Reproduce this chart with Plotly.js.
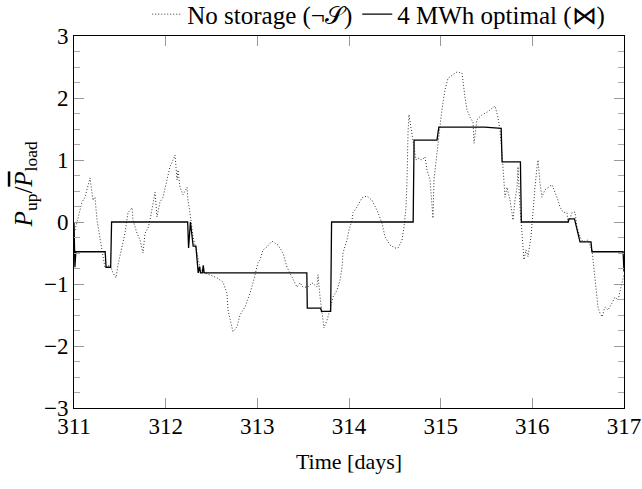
<!DOCTYPE html>
<html>
<head>
<meta charset="utf-8">
<script src="https://cdn.plot.ly/plotly-3.0.1.min.js"></script>
<style>html,body{margin:0;padding:0;background:#fff;}#chart{width:642px;height:489px;}</style>
</head>
<body>
<div id="chart"></div>
<script>
// No storage (dotted) series
const tNoStorage = [311.011,311.087,311.120,311.175,311.207,311.229,311.251,311.284,311.316,311.338,311.393,311.425,311.458,311.480,311.524,311.556,311.589,311.633,311.644,311.687,311.720,311.753,311.775,311.807,311.829,311.862,311.884,311.905,311.938,311.971,312.015,312.047,312.080,312.102,312.124,312.135,312.156,312.189,312.233,312.244,312.265,312.287,312.298,312.342,312.375,312.407,312.484,312.560,312.625,312.669,312.680,312.702,312.734,312.778,312.811,312.865,312.920,312.953,313.007,313.029,313.062,313.105,313.160,313.225,313.280,313.324,313.378,313.433,313.465,313.498,313.553,313.596,313.651,313.662,313.684,313.705,313.727,313.760,313.793,313.825,313.869,313.902,313.924,313.934,313.978,314.000,314.033,314.044,314.087,314.142,314.196,314.251,314.305,314.360,314.393,314.447,314.502,314.534,314.578,314.600,314.622,314.633,314.638,314.644,314.654,314.676,314.698,314.731,314.753,314.796,314.829,314.851,314.884,314.905,314.916,314.927,314.949,314.971,315.004,315.025,315.047,315.080,315.124,315.178,315.233,315.244,315.265,315.287,315.320,315.353,315.364,315.396,315.451,315.505,315.560,315.593,315.625,315.647,315.669,315.680,315.691,315.702,315.724,315.756,315.778,315.789,315.811,315.833,315.844,315.865,315.887,315.898,315.909,315.931,315.953,315.985,316.007,316.029,316.051,316.062,316.083,316.105,316.138,316.171,316.214,316.247,316.269,316.302,316.334,316.378,316.389,316.433,316.465,316.487,316.520,316.553,316.607,316.651,316.662,316.684,316.705,316.716,316.738,316.760,316.793,316.825,316.869,316.902,316.934,316.978,317.000];
const yNoStorage = [-0.13,0.32,0.40,0.71,0.35,0.40,0.03,-0.24,-0.50,-0.74,-0.69,-0.82,-0.90,-0.69,-0.40,-0.18,0.15,0.23,0.03,-0.18,-0.29,-0.50,-0.18,-0.10,0.03,0.31,0.48,0.08,0.32,0.40,0.68,0.89,1.00,1.08,0.68,0.84,0.56,0.44,0.56,0.35,0.15,-0.08,-0.24,-0.50,-0.74,-0.81,-0.86,-0.90,-0.97,-1.15,-1.42,-1.58,-1.77,-1.69,-1.50,-1.37,-1.15,-0.98,-0.66,-0.61,-0.45,-0.40,-0.31,-0.37,-0.50,-0.73,-0.90,-1.05,-0.98,-1.05,-1.05,-0.98,-1.05,-0.85,-1.21,-1.47,-1.71,-1.58,-1.42,-1.21,-1.10,-0.94,-0.73,-0.50,-0.29,-0.13,0.03,0.15,0.24,0.39,0.42,0.35,0.19,-0.02,-0.24,-0.37,-0.42,-0.42,-0.29,-0.08,0.24,0.68,1.11,1.44,1.73,1.53,1.27,1.00,1.03,1.00,1.05,0.84,0.68,0.35,0.06,0.68,1.00,1.32,1.69,1.92,2.13,2.32,2.37,2.42,2.40,2.24,2.02,1.81,1.69,1.61,1.27,1.65,1.73,1.77,1.84,1.87,1.69,1.48,1.11,0.89,0.73,0.40,0.56,0.35,0.15,0.03,0.35,0.56,0.89,0.24,-0.18,-0.40,-0.61,-0.45,-0.56,-0.24,0.24,0.56,0.89,1.00,0.63,0.40,0.52,0.55,0.60,0.48,0.40,0.24,0.16,0.15,-0.02,0.15,0.16,-0.08,-0.24,-0.32,-0.29,-0.45,-0.61,-0.94,-1.21,-1.37,-1.47,-1.53,-1.37,-1.42,-1.31,-1.21,-1.26,-0.98,-0.85];

// 4 MWh optimal (solid) series
const tOptimal = [311.0,311.01,311.02,311.34,311.35,311.40,311.41,312.24,312.25,312.27,312.30,312.33,312.355,312.37,312.38,312.40,312.41,312.42,313.54,313.545,313.69,313.70,313.80,313.81,314.70,314.71,314.96,314.98,315.48,315.66,315.67,315.87,315.88,316.39,316.40,316.46,316.52,316.64,316.65,316.99,317.0];
const yOptimal = [0,-0.73,-0.48,-0.48,-0.73,-0.73,0,0,-0.42,0,-0.39,-0.39,-0.82,-0.72,-0.82,-0.82,-0.70,-0.82,-0.82,-1.39,-1.39,-1.44,-1.44,0,0,1.32,1.32,1.53,1.53,1.51,0.97,0.97,0,0,0.05,0.05,-0.32,-0.32,-0.48,-0.48,-0.80];

const xTicks = [311,312,313,314,315,316,317];
const yTicks = [-3,-2,-1,0,1,2,3];
const yTickText = ['\u22123','\u22122','\u22121','0','1','2','3'];

const serif = 'Liberation Serif, Times New Roman, serif';

const traces = [
  {x: tNoStorage, y: yNoStorage, mode: 'lines', name: 'No storage (\u00ac\ud835\udcae)',
   line: {color: '#333', width: 1, dash: '1px,2px'}},
  {x: tOptimal, y: yOptimal, mode: 'lines', name: '4 MWh optimal (\u22c8)',
   line: {color: '#000', width: 1.3}}
];

const layout = {
  width: 642, height: 489,
  margin: {l: 74, r: 18, t: 36, b: 81, autoexpand: false},
  paper_bgcolor: '#fff', plot_bgcolor: '#fff',
  font: {family: serif, size: 23, color: '#000'},
  showlegend: true,
  legend: {orientation: 'h', x: 0.975, xanchor: 'right', y: 1.058, yanchor: 'middle',
           font: {family: serif, size: 25}, bgcolor: 'rgba(0,0,0,0)', itemwidth: 30, tracegroupgap: 0},
  xaxis: {range: [311, 317], tickvals: xTicks, ticktext: xTicks.map(String),
          ticks: 'inside', ticklen: 10, tickcolor: '#999', tickwidth: 1,
          showline: true, linecolor: '#000', linewidth: 1, mirror: 'ticks',
          showgrid: false, zeroline: false, ticklabelstandoff: -3,
          tickfont: {family: serif, size: 23},
          title: {text: 'Time [days]', font: {family: serif, size: 22}, standoff: 16}},
  yaxis: {range: [-3, 3], tickvals: yTicks, ticktext: yTickText,
          ticks: 'inside', ticklen: 10, tickcolor: '#999', tickwidth: 1,
          minor: {dtick: 0.25, ticks: 'inside', ticklen: 6, tickcolor: '#aaa', tickwidth: 1, showgrid: false},
          showline: true, linecolor: '#000', linewidth: 1, mirror: 'allticks',
          showgrid: false, zeroline: false,
          tickfont: {family: serif, size: 23}},
  annotations: [
    {xref: 'paper', yref: 'paper', x: -0.088, y: 0.6, xanchor: 'center', yanchor: 'middle',
     textangle: -90, showarrow: false,
     text: '<i>P</i><sub>up</sub>/<span style="text-decoration:overline"><i>P</i></span><sub>load</sub>',
     font: {family: serif, size: 25, color: '#000'}}
  ]
};

Plotly.newPlot('chart', traces, layout, {displayModeBar: false, staticPlot: true});
</script>
</body>
</html>
